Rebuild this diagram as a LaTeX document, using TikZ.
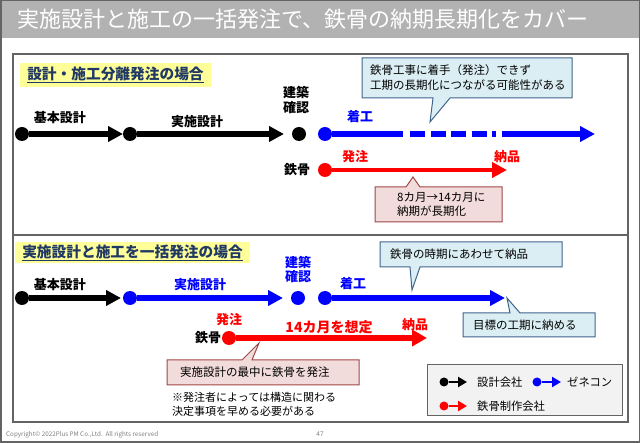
\documentclass[tikz,border=0pt]{standalone}
\usepackage{fontspec}
\setmainfont{Noto Sans CJK JP}
\usetikzlibrary{arrows.meta}
\definecolor{barGray}{RGB}{178,178,178}
\definecolor{frameGray}{RGB}{100,100,100}
\definecolor{navyTxt}{RGB}{31,56,100}
\definecolor{hiYellow}{RGB}{255,255,153}
\definecolor{fullBlue}{RGB}{0,0,255}
\definecolor{fullRed}{RGB}{255,0,0}
\definecolor{callBlueFill}{RGB}{219,238,244}
\definecolor{callBlueLine}{RGB}{65,100,140}
\definecolor{callRedFill}{RGB}{242,220,219}
\definecolor{callRedLine}{RGB}{160,70,70}
\definecolor{legFill}{RGB}{242,242,242}
\begin{document}
\begin{tikzpicture}[x=1pt,y=-1pt,
  dot/.style={circle,minimum size=14pt,inner sep=0pt},
  smalldot/.style={circle,minimum size=9pt,inner sep=0pt},
  arr/.style={line width=5.5pt,-{Triangle[length=15pt,width=15pt]}},
  smallarr/.style={line width=2.8pt,-{Triangle[length=9pt,width=10pt]}},
  lbl/.style={font=\fontsize{13}{15}\selectfont\bfseries,inner sep=0pt},
  ttl/.style={fill=hiYellow,text=navyTxt,inner sep=0pt,font=\fontsize{14.7}{16}\selectfont\bfseries},
  note/.style={font=\fontsize{11.5}{15}\selectfont,align=left,anchor=west,inner sep=0pt},
  callb/.style={fill=callBlueFill,draw=callBlueLine,line width=1pt},
  callr/.style={fill=callRedFill,draw=callRedLine,line width=1pt}]

\useasboundingbox (0,0) rectangle (640,443);

% Title bar
\fill[barGray] (0,0) rectangle (640,38);
\node[anchor=west,text=white,inner sep=0pt,font=\fontsize{22}{24}\selectfont] (title) at (17,19) {実施設計と施工の一括発注で、鉄骨の納期長期化をカバー};
\draw[frameGray,line width=1.5pt] (0.75,0.75) rectangle (639.25,442.25); % slide outline

% Panel outlines
\draw[frameGray,line width=1.5pt] (13,54) rectangle (628,235); % upper panel
\draw[frameGray,line width=1.5pt] (13,235) rectangle (628,422); % lower panel

%%%%% Upper panel
\node[ttl,minimum width=191pt,minimum height=24pt] (ttlA) at (115.5,75) {\underline{設計・施工分離発注の場合}};

\node[dot,fill=black] (aK1) at (22,134) {};
\node[dot,fill=black] (aK2) at (130,134) {};
\node[dot,fill=black] (aK3) at (299,134) {};
\coordinate (aK1e) at (123,134);
\coordinate (aK2e) at (284,134);
\draw[arr] (aK1) -- (aK1e);
\draw[arr] (aK2) -- (aK2e);
\node[lbl] (aKihon) at (60,118) {基本設計};
\node[lbl] (aJisshi) at (197,122) {実施設計};
\node[lbl,align=center,font=\fontsize{13}{14.5}\selectfont\bfseries] (aKakunin) at (296,100) {建築\\確認};

% Blue line with a gap of dashes
\node[dot,fill=fullBlue] (aB1) at (325,134) {};
\coordinate (aB1a) at (403,134);
\coordinate (aB1b) at (410,134);
\coordinate (aB1c) at (496,134);
\coordinate (aB1d) at (502,134);
\coordinate (aB1e) at (595,134);
\draw[fullBlue,line width=5.5pt] (aB1) -- (aB1a);
\draw[fullBlue,line width=5.5pt,dash pattern=on 15pt off 5.5pt] (aB1b) -- (aB1c);
\draw[arr,fullBlue] (aB1d) -- (aB1e);
\node[lbl,text=fullBlue] (aChako) at (360,117) {着工};

% Steel
\node[lbl] (aTekkotsu) at (297,170) {鉄骨};
\node[dot,fill=fullRed] (aR1) at (325,170) {};
\coordinate (aR1e) at (507,170);
\draw[arr,fullRed,line width=4.5pt] (aR1) -- (aR1e);
\node[lbl,text=fullRed] (aHacchu) at (355,157) {発注};
\node[lbl,text=fullRed] (aNohin) at (507,157) {納品};

% Callouts
\filldraw[callb] (362,58) -- (572,58) -- (572,98) -- (450,98) -- (430,122) -- (433,98) -- (362,98) -- cycle;
\node[note] (aNote1) at (370,78) {鉄骨工事に着手（発注）できず\\工期の長期化につながる可能性がある};
\filldraw[callr] (375,187) -- (406,187) -- (413,177) -- (420,187) -- (502,187) -- (502,222) -- (375,222) -- cycle;
\node[note,font=\fontsize{11.5}{14}\selectfont] (aNote2) at (397,204.5) {8カ月→14カ月に\\納期が長期化};

%%%%% Lower panel
\node[ttl,minimum width=235pt,minimum height=21pt] (ttlB) at (132.5,253) {\underline{実施設計と施工を一括発注の場合}};

\node[dot,fill=black] (bK1) at (22,298) {};
\node[dot,fill=fullBlue] (bB1) at (130,298) {};
\node[dot,fill=fullBlue] (bB2) at (298,298) {};
\node[dot,fill=fullBlue] (bB3) at (325,298) {};
\coordinate (bK1e) at (121,298);
\coordinate (bB1e) at (283,298);
\coordinate (bB3e) at (505,298);
\draw[arr] (bK1) -- (bK1e);
\draw[arr,fullBlue] (bB1) -- (bB1e);
\draw[arr,fullBlue] (bB3) -- (bB3e);
\node[lbl] (bKihon) at (60,285) {基本設計};
\node[lbl,text=fullBlue] (bJisshi) at (200,285) {実施設計};
\node[lbl,align=center,text=fullBlue,font=\fontsize{13}{14.5}\selectfont\bfseries] (bKakunin) at (298,269.5) {建築\\確認};
\node[lbl,text=fullBlue] (bChako) at (353,284) {着工};

% Steel
\node[lbl] (bTekkotsu) at (208,338) {鉄骨};
\node[dot,fill=fullRed] (bR1) at (229,338) {};
\coordinate (bR1e) at (427,338);
\draw[arr,fullRed,line width=6.5pt,-{Triangle[length=15pt,width=16pt]}] (bR1) -- (bR1e);
\node[lbl,text=fullRed] (bHacchu) at (229,320) {発注};
\node[lbl,text=fullRed,font=\fontsize{14}{16}\selectfont\bfseries] (bTerm) at (329,327) {14カ月を想定};
\node[lbl,text=fullRed] (bNohin) at (415,325) {納品};

% Callouts
\filldraw[callb] (380,242) -- (562,242) -- (562,267) -- (420,267) -- (412,290) -- (410,267) -- (380,267) -- cycle;
\node[note] (bNote1) at (390,254.5) {鉄骨の時期にあわせて納品};
\filldraw[callb] (463,313) -- (510,313) -- (507,298) -- (520,313) -- (595,313) -- (595,337) -- (463,337) -- cycle;
\node[note] (bNote2) at (473,325.5) {目標の工期に納める};
\filldraw[callr] (167,360) -- (242,360) -- (259,343) -- (252,360) -- (359,360) -- (359,385) -- (167,385) -- cycle;
\node[note] (bNote3) at (180,372.5) {実施設計の最中に鉄骨を発注};
\node[note,font=\fontsize{11}{14.5}\selectfont] (bNote4) at (172,404.5) {※発注者によっては構造に関わる\\決定事項を早める必要がある};

% Legend
\filldraw[fill=legFill,draw=frameGray,line width=1pt] (427,365) rectangle (622,416);
\node[smalldot,fill=black] (lgK) at (444,382) {};
\node[smalldot,fill=fullBlue] (lgB) at (537,382) {};
\node[smalldot,fill=fullRed] (lgR) at (444,406) {};
\coordinate (lgKe) at (467,382);
\coordinate (lgBe) at (561,382);
\coordinate (lgRe) at (467,406);
\draw[smallarr] (lgK) -- (lgKe);
\draw[smallarr,fullBlue] (lgB) -- (lgBe);
\draw[smallarr,fullRed] (lgR) -- (lgRe);
\node[note,font=\fontsize{11.3}{13}\selectfont] (lgKtxt) at (477,382) {設計会社};
\node[note,font=\fontsize{11.3}{13}\selectfont] (lgBtxt) at (567,382) {ゼネコン};
\node[note,font=\fontsize{11.3}{13}\selectfont] (lgRtxt) at (477,406) {鉄骨制作会社};

% Footer
\node[anchor=west,inner sep=0pt,text=gray,font=\fontsize{6.3}{7}\selectfont] (copy) at (6,435) {Copyright© 2022Plus PM Co.,Ltd.\ \ All rights reserved};
\node[inner sep=0pt,text=gray,font=\fontsize{6.5}{7}\selectfont] (page) at (320,434) {47};

\end{tikzpicture}
\end{document}
